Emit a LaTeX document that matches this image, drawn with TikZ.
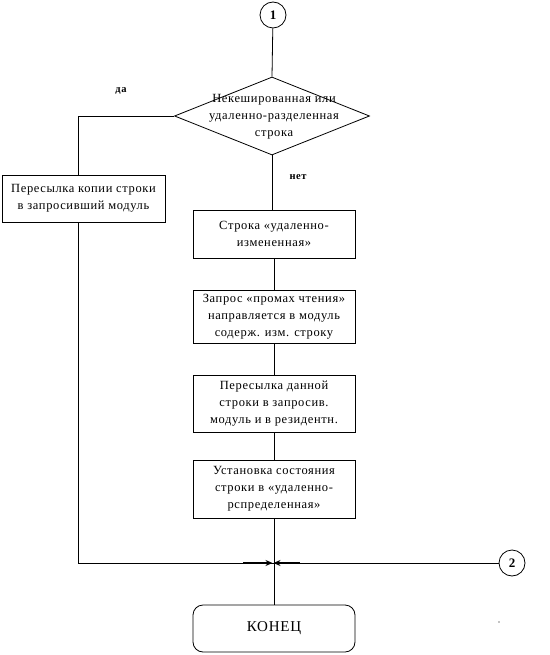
\documentclass[tikz,border=0pt]{standalone}
\usepackage{fontspec}
\setmainfont{Liberation Serif}[LetterSpace=5]
\usetikzlibrary{shapes.geometric,arrows.meta}
\begin{document}
\begin{tikzpicture}[x=1pt,y=-1pt,
  every node/.style={font=\fontsize{12.5}{17}\selectfont},
  proc/.style={draw,line width=0.8pt,minimum width=162pt,minimum height=50pt,align=center,inner sep=1pt},
  conn/.style={draw,circle,line width=0.8pt,minimum size=26pt,inner sep=0pt,font=\bfseries\fontsize{13}{14}\selectfont},
  lbl/.style={font=\bfseries\fontsize{10.5}{12}\selectfont},
  ln/.style={line width=0.8pt}]
\useasboundingbox (0,0) rectangle (549,655);
\node[conn] (c1) at (273,15) {1};
\node[draw,diamond,aspect=2.5,line width=0.8pt,minimum width=195pt,minimum height=78pt,inner sep=0pt,align=center] (d) at (272,116) {};
\node[align=center] (dt) at (274,117) {Некешированная или\\удаленно-разделенная\\строка};
\node[proc,minimum width=163pt,minimum height=47pt] (L) at (83.5,198.5) {Пересылка копии строки\\в запросивший модуль};
\node[proc,minimum height=48pt] (b1) at (274,234) {Строка «удаленно-\\измененная»};
\node[proc,minimum height=53pt] (b2) at (274,316.5) {Запрос «промах чтения»\\направляется в модуль\\содерж. изм. строку};
\node[proc,minimum height=57pt] (b3) at (274,403.5) {Пересылка данной\\строки в запросив.\\модуль и в резидентн.};
\node[proc,minimum height=58pt] (b4) at (274,489) {Установка состояния\\строки в «удаленно-\\рспределенная»};
\node[proc,rounded corners=10pt,minimum height=47pt,font=\fontsize{15}{17}\selectfont] (end) at (274,628.5) {КОНЕЦ};
\node[conn] (c2) at (512,563) {2};
\node[lbl] (yes) at (121,91) {да};
\node[lbl] (no) at (298,177) {нет};
\coordinate (m) at (273,563);
\coordinate (tl) at (78,116);
\coordinate (bl) at (78,563);
\coordinate (al) at (243,563);
\coordinate (ar) at (300,563);
\coordinate (aml) at (272.5,563);
\coordinate (amr) at (273.5,563);
\draw[ln] (c1) -- (d.north);
\draw[ln] (d.west) -- (tl) -- (L.north -| tl);
\draw[ln] (L.south -| tl) -- (bl) -- (m);
\draw[ln] (d.south) -- (b1.north -| d.south);
\draw[ln] (b1) -- (b2);
\draw[ln] (b2) -- (b3);
\draw[ln] (b3) -- (b4);
\draw[ln] (b4) -- (end);
\draw[ln] (c2) -- (m);
\draw[line width=1.6pt,-{Stealth[length=7pt,width=6pt]}] (al) -- (aml);
\draw[line width=1.6pt,-{Stealth[length=7pt,width=6pt]}] (ar) -- (amr);
\coordinate (dot) at (499,622);
\fill (dot) circle (0.6pt);
\end{tikzpicture}
\end{document}
